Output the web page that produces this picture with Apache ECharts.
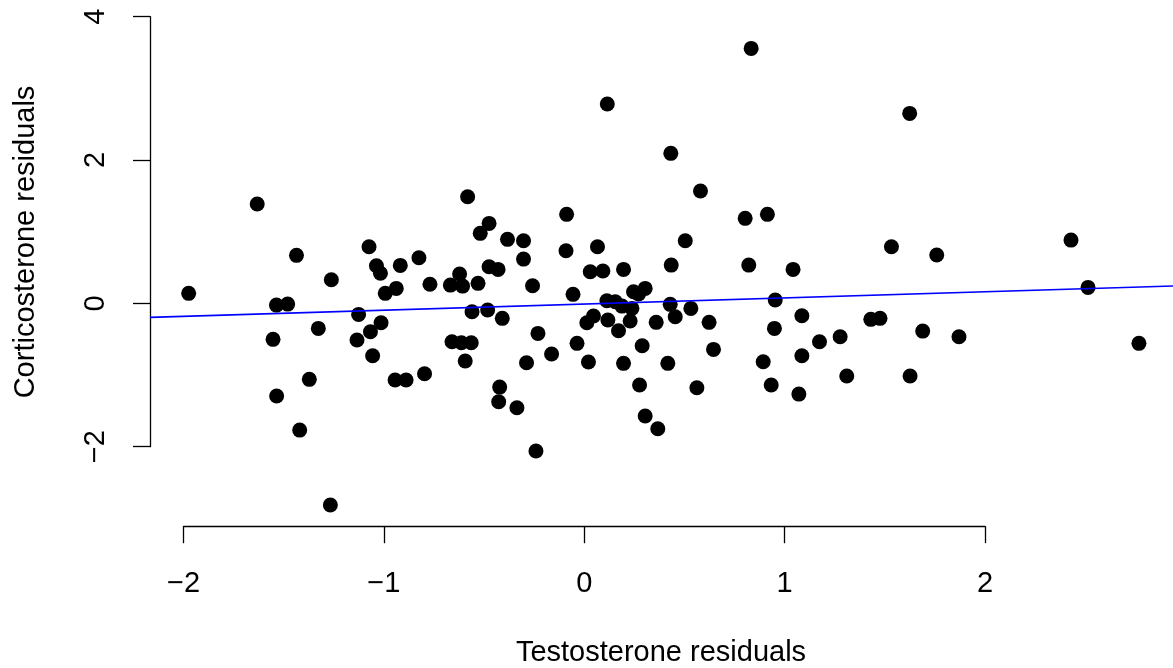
<!DOCTYPE html>
<html>
<head>
<meta charset="utf-8">
<script src="https://cdn.jsdelivr.net/npm/echarts@6/dist/echarts.min.js"></script>
<style>
html,body{margin:0;padding:0;background:#fff;}
#chart{width:1173px;height:668px;}
</style>
</head>
<body>
<div id="chart"></div>
<script>
// Testosterone residuals (x) and corticosterone residuals (y)
const testosterone = [
 -1.974,-1.632,-1.553,-1.536,-1.535,-1.480,-1.436,-1.420,-1.372,-1.327,
 -1.267,-1.262,-1.134,-1.126,-1.074,-1.067,-1.056,-1.037,-1.017,-1.014,
 -0.993,-0.944,-0.938,-0.918,-0.889,-0.825,-0.797,-0.770,-0.668,-0.660,
 -0.622,-0.613,-0.607,-0.594,-0.582,-0.564,-0.560,-0.530,-0.519,-0.482,
 -0.475,-0.475,-0.430,-0.427,-0.422,-0.409,-0.383,-0.336,-0.303,-0.303,
 -0.288,-0.258,-0.241,-0.231,-0.163,-0.091,-0.088,-0.056,-0.036,0.013,
 0.021,0.030,0.046,0.066,0.093,0.113,0.115,0.118,0.155,0.171,
 0.188,0.196,0.196,0.229,0.238,0.246,0.271,0.276,0.289,0.304,
 0.304,0.359,0.367,0.417,0.429,0.432,0.434,0.454,0.504,0.532,
 0.562,0.580,0.623,0.645,0.803,0.821,0.833,0.893,0.914,0.933,
 0.949,0.953,1.042,1.071,1.086,1.086,1.174,1.277,1.310,1.430,
 1.476,1.533,1.624,1.626,1.689,1.759,1.870,2.429,2.514,2.768
];
const corticosterone = [
 0.140,1.386,-0.502,-0.024,-1.293,-0.010,0.670,-1.768,-1.060,-0.349,
 -2.814,0.330,-0.512,-0.154,0.790,-0.396,-0.731,0.525,0.420,-0.270,
 0.140,-1.070,0.209,0.530,-1.070,0.637,-0.982,0.267,0.255,-0.536,
 0.409,-0.550,0.241,-0.805,1.488,-0.550,-0.117,0.279,0.977,-0.093,
 1.116,0.511,0.474,-1.373,-1.168,-0.209,0.893,-1.457,0.873,0.618,
 -0.829,0.246,-2.061,-0.419,-0.707,0.734,1.242,0.126,-0.558,-0.270,
 -0.819,0.441,-0.177,0.790,0.451,0.036,2.781,-0.233,0.022,-0.382,
 -0.038,0.474,-0.837,-0.247,-0.070,0.162,0.130,-1.140,-0.592,0.209,
 -1.572,-0.265,-1.749,-0.837,-0.014,2.093,0.534,-0.187,0.873,-0.070,
 -1.178,1.567,-0.265,-0.642,1.186,0.534,3.558,-0.815,1.242,-1.140,
 -0.349,0.046,0.474,-1.266,-0.173,-0.731,-0.536,-0.466,-1.014,-0.223,
 -0.209,0.790,2.651,-1.014,-0.387,0.674,-0.466,0.883,0.223,-0.558
];
// fitted regression line endpoints (at the plot edges)
const fitX = [-2.167, 2.938];
const fitY = [-0.195, 0.242];

const xTicks = [-2, -1, 0, 1, 2];
const yTicks = [-2, 0, 2, 4];
const xTitle = 'Testosterone residuals';
const yTitle = 'Corticosterone residuals';

const points = testosterone.map((v, i) => [v, corticosterone[i]]);
const fitLine = fitX.map((v, i) => [v, fitY[i]]);
const fmt = v => String(v).replace('-', '\u2212');
const FONT = '"Liberation Sans", Arial, Helvetica, sans-serif';
const FS = 29;

const axisCommon = {
  type: 'value',
  axisLine: {show: true, onZero: false, lineStyle: {color: '#000', width: 1.3}},
  axisTick: {show: true, length: 17, lineStyle: {color: '#000', width: 1.3}},
  splitLine: {show: false}
};
const hiddenAxis = {
  type: 'value', show: false,
  axisLine: {show: false, onZero: false}, axisTick: {show: false},
  axisLabel: {show: false}, splitLine: {show: false}
};

const chart = echarts.init(document.getElementById('chart'), null, {renderer: 'canvas'});
chart.setOption({
  animation: false,
  backgroundColor: '#ffffff',
  grid: [
    // grid spanning exactly the tick range (for R-style axes)
    {left: 183.5, right: 188, top: 16.7, bottom: 221.3, containLabel: false},
    // full plot region (for the marks)
    {left: 150, right: 0, top: 16.7, bottom: 221.3, containLabel: false}
  ],
  xAxis: [
    Object.assign({}, axisCommon, {
      gridIndex: 0, min: xTicks[0], max: xTicks[xTicks.length - 1], interval: 1,
      offset: 79.5,
      axisLabel: {fontSize: FS, color: '#000', fontFamily: FONT, margin: 43, formatter: fmt}
    }),
    Object.assign({}, hiddenAxis, {gridIndex: 1, min: -2.167, max: 2.938})
  ],
  yAxis: [
    Object.assign({}, axisCommon, {
      gridIndex: 0, min: yTicks[0], max: yTicks[yTicks.length - 1], interval: 2,
      offset: 33.5,
      axisLabel: {fontSize: FS, color: '#000', fontFamily: FONT, margin: 40, rotate: 90, formatter: fmt}
    }),
    Object.assign({}, hiddenAxis, {gridIndex: 1, min: yTicks[0], max: yTicks[yTicks.length - 1]})
  ],
  graphic: [
    {type: 'text', x: 661, y: 653, style: {
      text: xTitle, fontSize: FS, fontFamily: FONT, fill: '#000', align: 'center', verticalAlign: 'middle'}},
    {type: 'text', x: 26, y: 242, rotation: Math.PI / 2, style: {
      text: yTitle, fontSize: FS, fontFamily: FONT, fill: '#000', align: 'center', verticalAlign: 'middle'}}
  ],
  series: [
    {
      type: 'scatter', xAxisIndex: 1, yAxisIndex: 1, data: points,
      symbol: 'circle', symbolSize: 15, clip: false,
      itemStyle: {color: '#000', opacity: 1}, z: 2
    },
    {
      type: 'line', xAxisIndex: 1, yAxisIndex: 1, data: fitLine,
      showSymbol: false, symbol: 'none', clip: false,
      lineStyle: {color: '#0000ff', width: 1.6}, z: 3
    }
  ]
});
</script>
</body>
</html>
